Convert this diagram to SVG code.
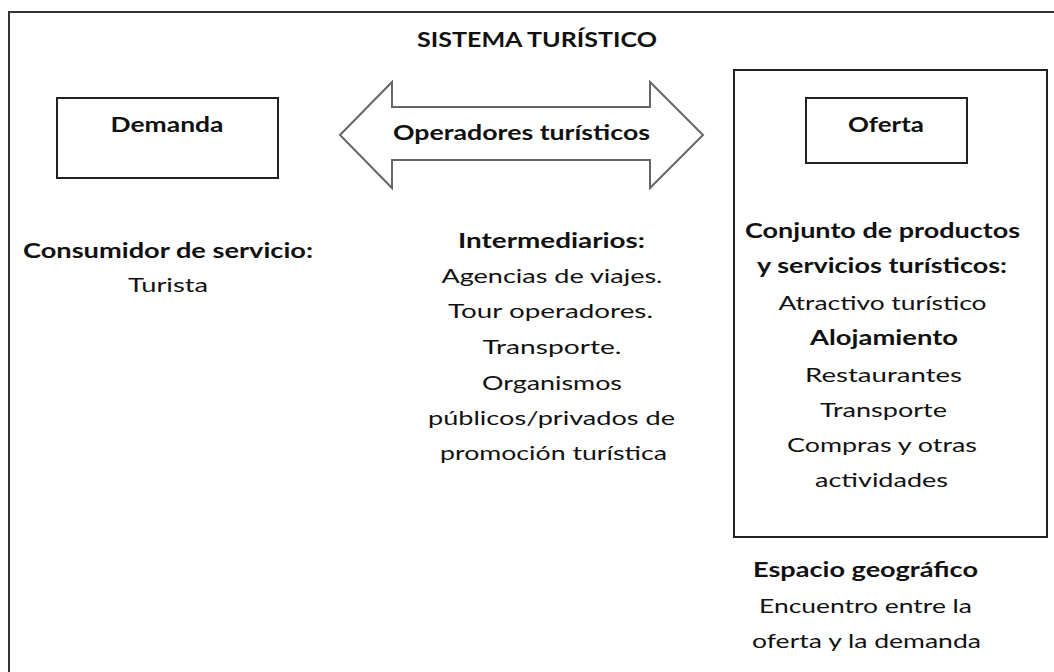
<svg xmlns="http://www.w3.org/2000/svg" width="1054" height="672" viewBox="0 0 1054 672">
<style>
.box{fill:#fff;stroke:#222;stroke-width:2}
.frame{fill:none;stroke:#333;stroke-width:2}
.arrow{fill:#fff;stroke:#666;stroke-width:2;stroke-linejoin:miter}
text{font-family:Lato,"Open Sans","Liberation Sans",sans-serif;font-size:20px;fill:#111;text-anchor:middle}
.b{font-weight:bold}
</style>
<rect width="1054" height="672" fill="#fff"/>
<g id="frame"><rect class="frame" x="9" y="12" width="1060" height="680"/></g>
<g id="title"><text class="b" x="537" y="47" textLength="240" lengthAdjust="spacingAndGlyphs">SISTEMA TURÍSTICO</text></g>
<g id="demanda">
<rect class="box" x="57" y="98" width="221" height="80"/>
<text class="b" x="167" y="132" textLength="113" lengthAdjust="spacingAndGlyphs">Demanda</text>
</g>
<g id="connectors">
<g id="operadores">
<path class="arrow" d="M340,135 L392,82 L392,107 L650,107 L650,82 L703,135 L650,188 L650,160 L392,160 L392,188 Z"/>
<text class="b" x="521.5" y="140" textLength="257" lengthAdjust="spacingAndGlyphs">Operadores turísticos</text>
</g>
</g>
<g id="oferta-area">
<rect class="box" x="734" y="70" width="313" height="467"/>
</g>
<g id="oferta">
<rect class="box" x="806" y="98" width="161" height="65"/>
<text class="b" x="886" y="132" textLength="76" lengthAdjust="spacingAndGlyphs">Oferta</text>
</g>
<g id="consumidor">
<text class="b" x="168" y="258" textLength="290" lengthAdjust="spacingAndGlyphs">Consumidor de servicio:</text>
<text x="168" y="292" textLength="80" lengthAdjust="spacingAndGlyphs">Turista</text>
</g>
<g id="intermediarios">
<text class="b" x="551.5" y="248" textLength="187" lengthAdjust="spacingAndGlyphs">Intermediarios:</text>
<text x="552" y="283" textLength="221" lengthAdjust="spacingAndGlyphs">Agencias de viajes.</text>
<text x="550.5" y="318" textLength="205" lengthAdjust="spacingAndGlyphs">Tour operadores.</text>
<text x="552" y="354" textLength="139" lengthAdjust="spacingAndGlyphs">Transporte.</text>
<text x="552" y="390" textLength="140" lengthAdjust="spacingAndGlyphs">Organismos</text>
<text x="551.5" y="425" textLength="247" lengthAdjust="spacingAndGlyphs">públicos/privados de</text>
<text x="553.5" y="460" textLength="227" lengthAdjust="spacingAndGlyphs">promoción turística</text>
</g>
<g id="productos">
<text class="b" x="882.5" y="238" textLength="275" lengthAdjust="spacingAndGlyphs">Conjunto de productos</text>
<text class="b" x="882" y="273" textLength="250" lengthAdjust="spacingAndGlyphs">y servicios turísticos:</text>
<text x="882.5" y="310" textLength="208" lengthAdjust="spacingAndGlyphs">Atractivo turístico</text>
<text class="b" x="884" y="345" textLength="148" lengthAdjust="spacingAndGlyphs">Alojamiento</text>
<text x="883.5" y="382" textLength="157" lengthAdjust="spacingAndGlyphs">Restaurantes</text>
<text x="883.5" y="417" textLength="127" lengthAdjust="spacingAndGlyphs">Transporte</text>
<text x="882" y="452" textLength="190" lengthAdjust="spacingAndGlyphs">Compras y otras</text>
<text x="881.5" y="487" textLength="133" lengthAdjust="spacingAndGlyphs">actividades</text>
</g>
<g id="espacio">
<text class="b" x="865.5" y="577" textLength="225" lengthAdjust="spacingAndGlyphs">Espacio geográfico</text>
<text x="865.5" y="613" textLength="213" lengthAdjust="spacingAndGlyphs">Encuentro entre la</text>
<text x="866.5" y="648" textLength="229" lengthAdjust="spacingAndGlyphs">oferta y la demanda</text>
</g>
</svg>
